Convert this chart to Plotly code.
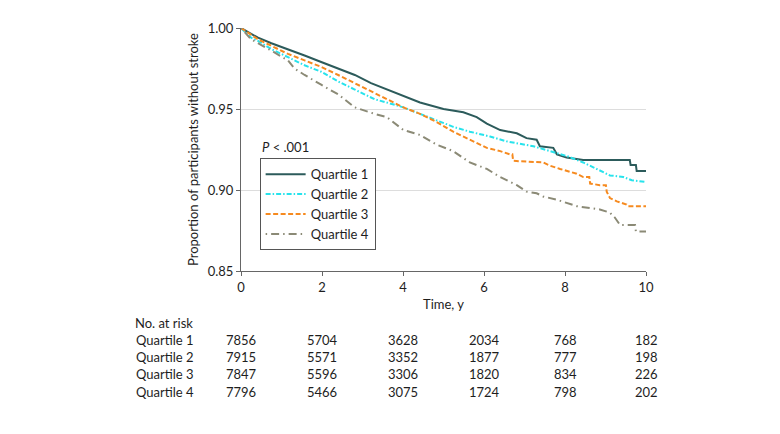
import plotly.graph_objects as go

# ---- data ----
q1_t = [0, 0.42, 0.75, 1.16, 1.57, 1.98, 2.4, 2.81, 3.21, 3.6, 4.01, 4.42, 5.0, 5.49, 5.82, 6.07,
        6.4, 6.81, 7.05, 7.30, 7.38, 7.71, 7.80, 8.04, 8.45, 9.60, 9.62, 9.75, 9.77, 10]
q1_s = [1.0, 0.994, 0.9906, 0.987, 0.983, 0.979, 0.975, 0.971, 0.966, 0.962, 0.958, 0.954, 0.950,
        0.948, 0.945, 0.941, 0.937, 0.935, 0.932, 0.931, 0.927, 0.926, 0.922, 0.920, 0.9185,
        0.9185, 0.9155, 0.9155, 0.9117, 0.9117]

q2_t = [0, 0.25, 0.42, 0.75, 1.16, 1.57, 1.98, 2.4, 2.81, 3.3, 3.6, 4.01, 4.42, 4.83, 5.24, 5.65,
        6.15, 6.56, 7.22, 7.63, 8.04, 8.45, 8.78, 9.11, 9.44, 9.65, 10]
q2_s = [1.0, 0.994, 0.992, 0.987, 0.982, 0.977, 0.973, 0.967, 0.962, 0.956, 0.954, 0.951, 0.947,
        0.943, 0.939, 0.936, 0.933, 0.930, 0.927, 0.924, 0.921, 0.917, 0.913, 0.909, 0.908,
        0.906, 0.905]

q3_t = [0, 0.42, 0.75, 1.16, 1.57, 1.98, 2.4, 2.81, 3.3, 3.6, 4.01, 4.42, 4.83, 5.24, 5.65, 6.07,
        6.4, 6.64, 6.70, 6.72, 7.46, 7.63, 7.88, 8.29, 8.45, 8.60, 8.62, 8.86, 9.01, 9.03, 9.11,
        9.28, 9.52, 9.55, 10]
q3_s = [1.0, 0.993, 0.989, 0.984, 0.980, 0.976, 0.971, 0.966, 0.960, 0.956, 0.951, 0.947, 0.942,
        0.936, 0.931, 0.926, 0.924, 0.922, 0.922, 0.918, 0.917, 0.915, 0.913, 0.910, 0.908,
        0.908, 0.904, 0.903, 0.903, 0.899, 0.895, 0.893, 0.891, 0.890, 0.890]

q4_t = [0, 0.25, 0.75, 1.16, 1.32, 1.57, 1.98, 2.4, 2.81, 3.05, 3.3, 3.6, 4.01, 4.42, 4.83, 5.24,
        5.65, 6.07, 6.4, 6.81, 7.05, 7.3, 7.46, 7.80, 8.04, 8.29, 8.86, 9.11, 9.23, 9.36, 9.73,
        9.75, 10]
q4_s = [1.0, 0.993, 0.986, 0.980, 0.975, 0.971, 0.965, 0.959, 0.951, 0.949, 0.947, 0.945, 0.937,
        0.934, 0.928, 0.924, 0.917, 0.913, 0.908, 0.903, 0.899, 0.898, 0.896, 0.894, 0.892,
        0.890, 0.888, 0.886, 0.883, 0.8784, 0.8784, 0.8744, 0.8744]

series_names = ["Quartile 1", "Quartile 2", "Quartile 3", "Quartile 4"]
x_ticks = [0, 2, 4, 6, 8, 10]
y_ticks = [0.85, 0.90, 0.95, 1.00]
y_tick_labels = ["0.85", "0.90", "0.95", "1.00"]

risk_times = [0, 2, 4, 6, 8, 10]
risk_q1 = [7856, 5704, 3628, 2034, 768, 182]
risk_q2 = [7915, 5571, 3352, 1877, 777, 198]
risk_q3 = [7847, 5596, 3306, 1820, 834, 226]
risk_q4 = [7796, 5466, 3075, 1724, 798, 202]

# ---- styles ----
FONT = "Lato, 'Open Sans', sans-serif"
TXT = "#1e1e1e"
colors = ["#2c5b5b", "#27e3ec", "#f68a1f", "#8b8a76"]
dashes = ["solid", "5px,2px,1.5px,2px", "5px,2.5px", "1.5px,4px,8px,4px"]

fig = go.Figure()
for name, t, s, c, d in zip(series_names, [q1_t, q2_t, q3_t, q4_t],
                            [q1_s, q2_s, q3_s, q4_s], colors, dashes):
    fig.add_trace(go.Scatter(x=t, y=s, mode="lines", name=name,
                             line=dict(color=c, width=2, dash=d, shape="linear")))

# P value
annotations = [dict(x=0.047, y=0.512, xref="paper", yref="paper", xanchor="left",
                    yanchor="middle", showarrow=False, text="<i>P</i> < .001",
                    font=dict(size=13, color=TXT, family=FONT))]

# number-at-risk table
H = 251.0
def py(p):
    return (271 - p) / H

annotations.append(dict(x=-0.2674, y=py(324.5), xref="paper", yref="paper", xanchor="left",
                        yanchor="middle", showarrow=False, text="No. at risk",
                        font=dict(size=13, color=TXT, family=FONT)))
rows = [risk_q1, risk_q2, risk_q3, risk_q4]
row_y = [342.3, 360.0, 377.7, 395.7]
for name, vals, ry in zip(series_names, rows, row_y):
    annotations.append(dict(x=-0.110, y=py(ry), xref="paper", yref="paper", xanchor="right",
                            yanchor="middle", showarrow=False, text=name,
                            font=dict(size=13, color=TXT, family=FONT)))
    for tx, v in zip(risk_times, vals):
        annotations.append(dict(x=tx, y=py(ry), xref="x", yref="paper", xanchor="center",
                                yanchor="middle", showarrow=False, text=str(v),
                                font=dict(size=13, color=TXT, family=FONT)))

# page body has an 8px default margin; offset the plot margins to compensate
fig.update_layout(
    width=780, height=434,
    margin=dict(l=233, r=142, t=12, b=171),
    paper_bgcolor="white", plot_bgcolor="white",
    font=dict(family=FONT, size=13, color=TXT),
    showlegend=True,
    legend=dict(x=0.046, y=0.464, xanchor="left", yanchor="top",
                bordercolor="#555555", borderwidth=1, bgcolor="white",
                font=dict(size=13, color=TXT, family=FONT),
                tracegroupgap=0, itemwidth=40),
    annotations=annotations,
    xaxis=dict(range=[0, 10], tickvals=x_ticks, ticks="outside", ticklen=4,
               tickcolor="#666666", showline=True, linecolor="#666666", linewidth=1,
               showgrid=False, zeroline=False,
               title=dict(text="Time, y", standoff=6, font=dict(size=13, color=TXT)),
               tickfont=dict(size=13, color=TXT)),
    yaxis=dict(range=[0.85, 1.0], tickvals=y_ticks, ticktext=y_tick_labels,
               ticks="outside", ticklen=4, tickcolor="#666666",
               showline=True, linecolor="#666666", linewidth=1,
               showgrid=True, gridcolor="#dddddd", gridwidth=1, zeroline=False,
               title=dict(text="Proportion of participants without stroke", standoff=6,
                          font=dict(size=13, color=TXT)),
               tickfont=dict(size=13, color=TXT)),
)

fig.write_html("out.html")
